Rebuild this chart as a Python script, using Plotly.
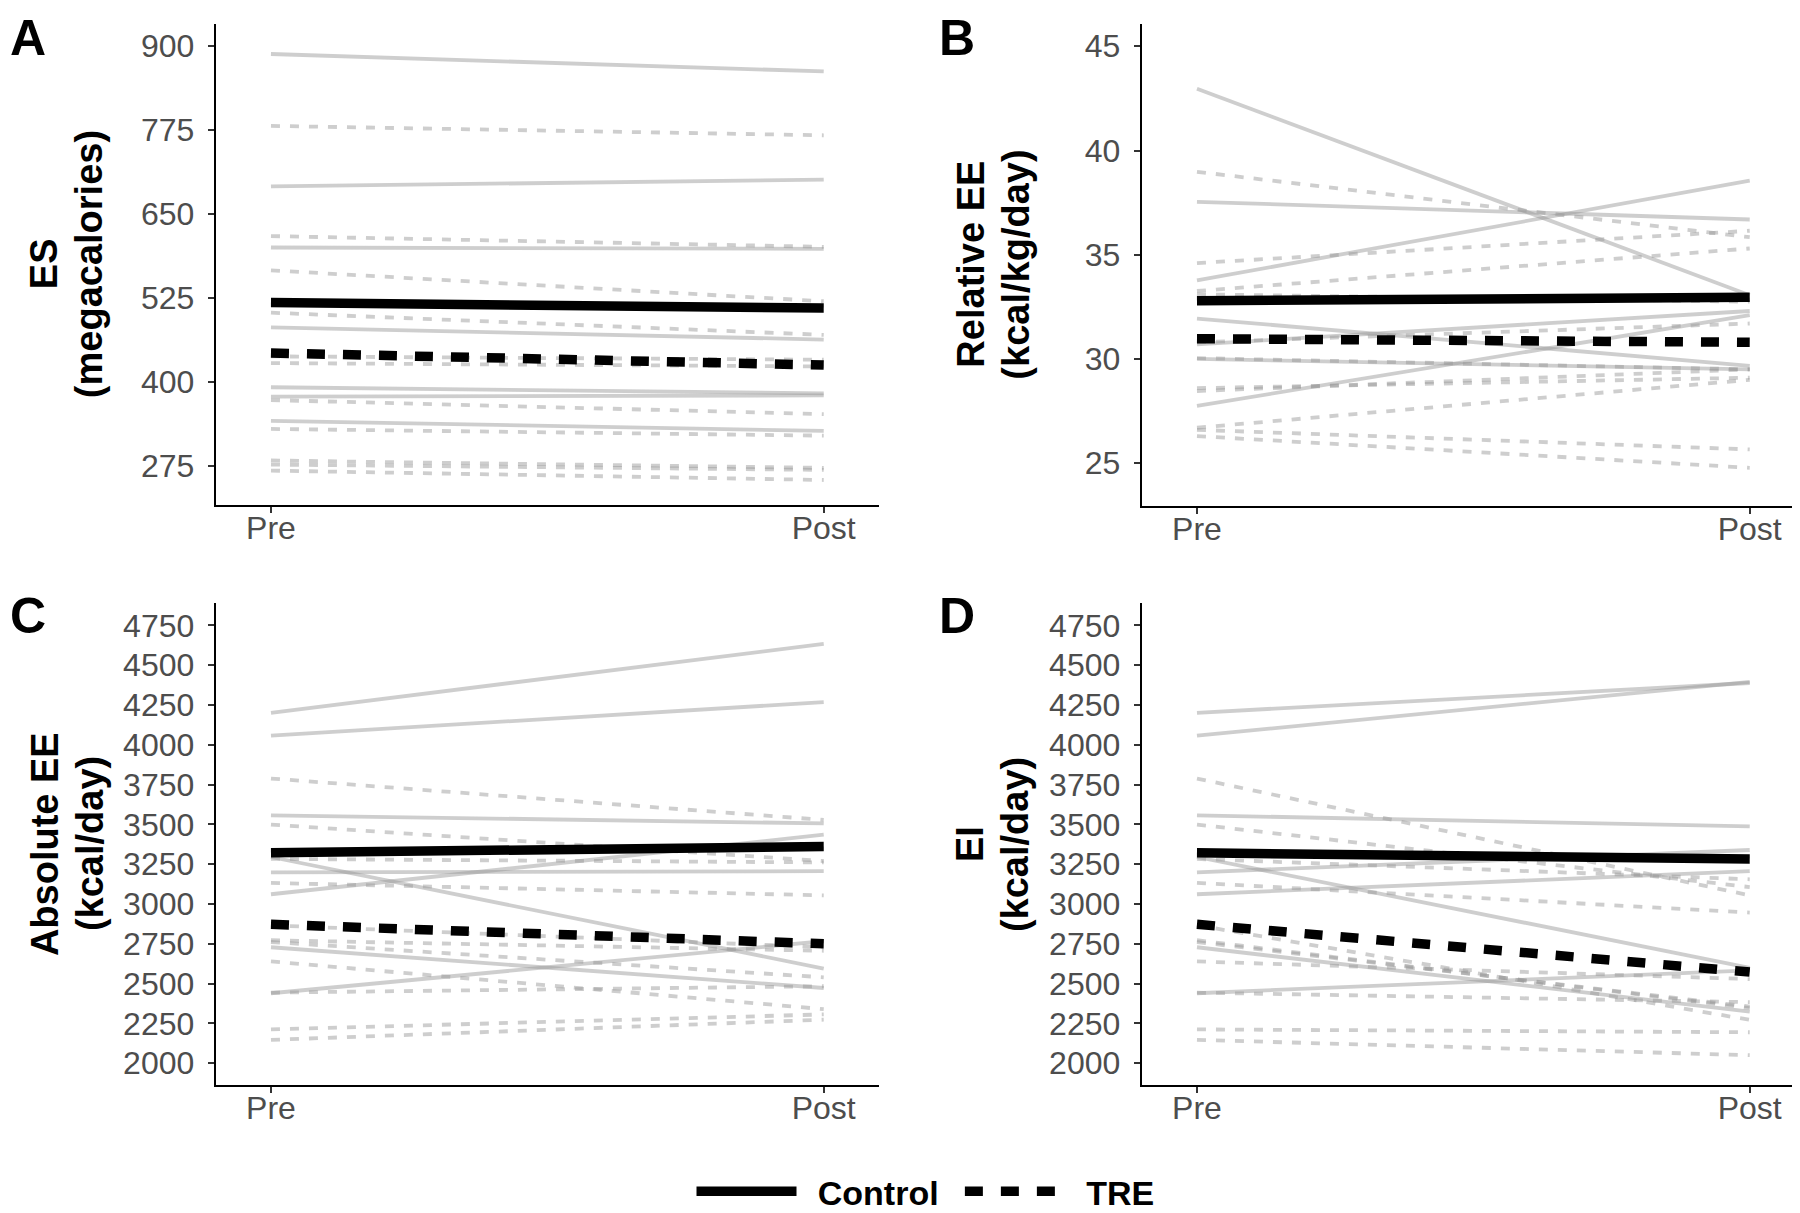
import plotly.graph_objects as go

W, H = 1800, 1213
PHASES = ["Pre", "Post"]

# ---------------- Panel A: ES (megacalories) ----------------
A_ctrl_pre = [888, 691, 600, 481, 392, 378, 342]
A_ctrl_post = [862, 701, 598, 463, 383, 380, 327]
A_tre_pre = [781, 617, 566, 503, 438, 428, 373, 330, 283, 277, 268]
A_tre_post = [767, 601, 520, 470, 433, 423, 352, 320, 272, 269, 254]
A_mean_ctrl = [518, 510]
A_mean_tre = [443, 425]

# ---------------- Panel B: Relative EE (kcal/kg/day) ----------------
B_ctrl_pre = [42.96, 37.54, 33.77, 31.94, 27.75, 30.7, 30.0]
B_ctrl_post = [33.06, 36.69, 38.55, 29.67, 32.1, 32.3, 29.5]
B_tre_pre = [38.98, 34.6, 33.26, 33.1, 30.8, 30.04, 28.6, 28.46, 26.7, 26.6, 26.3]
B_tre_post = [35.84, 36.15, 35.3, 32.75, 31.7, 29.5, 29.1, 29.5, 29.0, 25.66, 24.78]
B_mean_ctrl = [32.79, 32.96]
B_mean_tre = [30.97, 30.8]

# ---------------- Panel C: Absolute EE (kcal/day) ----------------
C_ctrl_pre = [4201, 4057, 3557, 3295, 3199, 3061, 2728, 2439]
C_ctrl_post = [4634, 4268, 3506, 2594, 3206, 3435, 2472, 2766]
C_tre_pre = [3788, 3499, 3283, 3132, 2866, 2772, 2761, 2639, 2443, 2212, 2146]
C_tre_post = [3528, 3270, 3261, 3054, 2728, 2706, 2539, 2339, 2483, 2306, 2273]
C_mean_ctrl = [3321, 3361]
C_mean_tre = [2872, 2750]

# ---------------- Panel D: EI (kcal/day) ----------------
D_ctrl_pre = [4201, 4057, 3557, 3295, 3199, 3061, 2728, 2439]
D_ctrl_post = [4388, 4395, 3488, 2599, 3339, 3206, 2323, 2583]
D_tre_pre = [3788, 3499, 3283, 3132, 2866, 2772, 2761, 2639, 2443, 2212, 2146]
D_tre_post = [3054, 3106, 3155, 2946, 2272, 2346, 2355, 2528, 2383, 2194, 2050]
D_mean_ctrl = [3321, 3283]
D_mean_tre = [2872, 2572]

# y tick labels
A_ticks = [275, 400, 525, 650, 775, 900]
B_ticks = [25, 30, 35, 40, 45]
CD_ticks = [2000, 2250, 2500, 2750, 3000, 3250, 3500, 3750, 4000, 4250, 4500, 4750]

panels = [
    dict(letter="A", t1="ES", t2="(megacalories)",
         cp=A_ctrl_pre, cq=A_ctrl_post, tp=A_tre_pre, tq=A_tre_post,
         mc=A_mean_ctrl, mt=A_mean_tre, ticks=A_ticks, yr=[217.5, 933]),
    dict(letter="B", t1="Relative EE", t2="(kcal/kg/day)",
         cp=B_ctrl_pre, cq=B_ctrl_post, tp=B_tre_pre, tq=B_tre_post,
         mc=B_mean_ctrl, mt=B_mean_tre, ticks=B_ticks, yr=[22.97, 46.08]),
    dict(letter="C", t1="Absolute EE", t2="(kcal/day)",
         cp=C_ctrl_pre, cq=C_ctrl_post, tp=C_tre_pre, tq=C_tre_post,
         mc=C_mean_ctrl, mt=C_mean_tre, ticks=CD_ticks, yr=[1864, 4888]),
    dict(letter="D", t1="EI", t2="(kcal/day)",
         cp=D_ctrl_pre, cq=D_ctrl_post, tp=D_tre_pre, tq=D_tre_post,
         mc=D_mean_ctrl, mt=D_mean_tre, ticks=CD_ticks, yr=[1864, 4888]),
]

# panel boxes in pixels (left, right, top, bottom)
boxes = [
    (207.7, 871, 16, 504),
    (1133.7, 1797, 16, 505),
    (207.7, 871, 604.4, 1093),
    (1133.7, 1797, 604.4, 1093),
]
letters_xy = [(20, 30), (949, 30), (20, 617), (949, 617)]
title_x = [(36, 81), (963, 1008), (37, 82), (962, 1007)]

GRAY = "rgba(150,150,150,0.47)"
FONT = "Liberation Sans"
fig = go.Figure()
layout = dict(width=W, height=H, margin=dict(l=0, r=0, t=0, b=0),
              paper_bgcolor="white", plot_bgcolor="white", showlegend=True)
annotations = []

for i, p in enumerate(panels):
    n = "" if i == 0 else str(i + 1)
    xa, ya = "x" + n, "y" + n
    for pre, post in zip(p["cp"], p["cq"]):
        fig.add_trace(go.Scatter(x=PHASES, y=[pre, post], mode="lines", xaxis=xa, yaxis=ya,
                                 line=dict(color=GRAY, width=3.8), showlegend=False, hoverinfo="skip"))
    for pre, post in zip(p["tp"], p["tq"]):
        fig.add_trace(go.Scatter(x=PHASES, y=[pre, post], mode="lines", xaxis=xa, yaxis=ya,
                                 line=dict(color=GRAY, width=3.8, dash="9px,10px"),
                                 showlegend=False, hoverinfo="skip"))
    fig.add_trace(go.Scatter(x=PHASES, y=p["mc"], mode="lines", xaxis=xa, yaxis=ya,
                             name="\u00a0\u2009Control\u00a0\u2009",
                             line=dict(color="black", width=9.5), showlegend=(i == 0),
                             legendgroup="ctrl", hoverinfo="skip"))
    fig.add_trace(go.Scatter(x=PHASES, y=p["mt"], mode="lines", xaxis=xa, yaxis=ya,
                             name="\u00a0\u2009TRE",
                             line=dict(color="black", width=9.5, dash="18px,18px"), showlegend=(i == 0),
                             legendgroup="tre", hoverinfo="skip"))

    l, r, t, b = boxes[i]
    layout["xaxis" + n] = dict(domain=[l / W, r / W], anchor=ya, range=[-0.1, 1.1],
                               type="category", showgrid=False, zeroline=False,
                               showline=True, linecolor="black", linewidth=2,
                               ticks="outside", ticklen=6, tickwidth=2, tickcolor="#333333",
                               ticklabelstandoff=-12,
                               tickfont=dict(family=FONT, size=32, color="#4d4d4d"))
    layout["yaxis" + n] = dict(domain=[1 - b / H, 1 - t / H], anchor=xa, range=p["yr"],
                               tickvals=p["ticks"], showgrid=False, zeroline=False,
                               showline=True, linecolor="black", linewidth=2,
                               ticks="outside", ticklen=6, tickwidth=2, tickcolor="#333333",
                               ticklabelstandoff=7,
                               tickfont=dict(family=FONT, size=32, color="#4d4d4d"))
    lx, ly = letters_xy[i]
    annotations.append(dict(text="<b>%s</b>" % p["letter"], x=lx / W, y=1 - ly / H,
                            xref="paper", yref="paper", showarrow=False,
                            xanchor="center", yanchor="middle",
                            font=dict(family=FONT, size=50, color="black")))
    yc = 1 - ((t + b) / 2) / H
    for k, txt in enumerate([p["t1"], p["t2"]]):
        annotations.append(dict(text="<b>%s</b>" % txt, x=title_x[i][k] / W, y=yc,
                                xref="paper", yref="paper", showarrow=False, textangle=-90,
                                xanchor="center", yanchor="middle",
                                font=dict(family=FONT, size=38, color="black")))

layout["annotations"] = annotations
layout["legend"] = dict(orientation="h", x=0.5 + 17.5 / W, xanchor="center", y=1 - 1201.5 / H,
                        yanchor="middle", itemwidth=100,
                        font=dict(family=FONT, size=34, color="black", weight="bold"),
                        bgcolor="rgba(0,0,0,0)")
fig.update_layout(**layout)
fig.write_html("out.html")
